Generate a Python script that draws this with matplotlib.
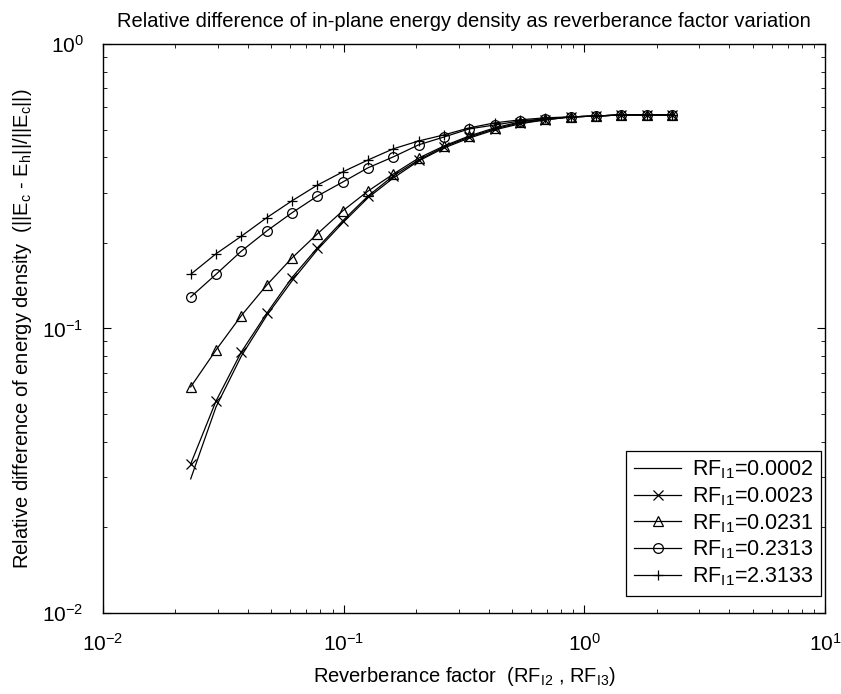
import numpy as np
import matplotlib
matplotlib.use("Agg")
import matplotlib.pyplot as plt

plt.rcParams['font.family'] = ['Liberation Sans', 'DejaVu Sans']
plt.rcParams['mathtext.fontset'] = 'custom'
plt.rcParams['mathtext.rm'] = 'Liberation Sans'
plt.rcParams['mathtext.it'] = 'Liberation Sans'

# reverberance factor RF_I2 = RF_I3 (20 log-spaced samples)
rf = np.logspace(np.log10(0.023133), np.log10(2.3133), 20)

rf1_labels = ["0.0002", "0.0023", "0.0231", "0.2313", "2.3133"]

err_00002 = [0.0296, 0.053, 0.080, 0.111, 0.147, 0.189, 0.235, 0.288, 0.338, 0.388,
             0.431, 0.467, 0.499, 0.524, 0.541, 0.554, 0.558, 0.563, 0.563, 0.563]
err_00023 = [0.0334, 0.0556, 0.0827, 0.113, 0.151, 0.192, 0.239, 0.292, 0.344, 0.391,
             0.435, 0.471, 0.503, 0.528, 0.541, 0.554, 0.558, 0.563, 0.563, 0.563]
err_00231 = [0.0623, 0.084, 0.111, 0.142, 0.177, 0.215, 0.259, 0.304, 0.349, 0.397,
             0.438, 0.475, 0.507, 0.532, 0.545, 0.554, 0.558, 0.563, 0.563, 0.563]
err_02313 = [0.129, 0.155, 0.187, 0.220, 0.255, 0.292, 0.327, 0.367, 0.401, 0.442,
             0.471, 0.503, 0.519, 0.536, 0.545, 0.554, 0.558, 0.563, 0.563, 0.563]
err_23133 = [0.155, 0.183, 0.211, 0.245, 0.281, 0.319, 0.355, 0.391, 0.428, 0.456,
             0.479, 0.507, 0.528, 0.541, 0.550, 0.554, 0.558, 0.563, 0.563, 0.563]

series = [err_00002, err_00023, err_00231, err_02313, err_23133]
markers = [None, 'x', '^', 'o', '+']

fig = plt.figure(figsize=(8.41, 6.94), dpi=100)
ax = fig.add_axes([0.1225, 0.1167, 0.8585, 0.82])

for vals, m, lab in zip(series, markers, rf1_labels):
    ax.loglog(rf, vals, color='black', linewidth=0.9, marker=m, markersize=7,
              markerfacecolor='none', markeredgecolor='black', markeredgewidth=0.9,
              label=r'RF$_{\mathrm{I1}}$=' + lab)

ax.set_xlim(1e-2, 1e1)
ax.set_ylim(1e-2, 1e0)
ax.tick_params(which='both', direction='in', top=True, right=True, labelsize=15)
ax.tick_params(which='major', length=6, pad=14)
ax.tick_params(which='minor', length=3)
for s in ax.spines.values():
    s.set_linewidth(1.0)

ax.set_title('Relative difference of in-plane energy density as reverberance factor variation',
             fontsize=14.5, pad=12)
ax.set_xlabel(r'Reverberance factor  (RF$_{\mathrm{I2}}$ , RF$_{\mathrm{I3}}$)', fontsize=14.5, labelpad=8)
ax.set_ylabel(r'Relative difference of energy density  (||E$_\mathrm{c}$ - E$_\mathrm{h}$||/||E$_\mathrm{c}$||)',
              fontsize=14.5, labelpad=6)

leg = ax.legend(loc='lower right', bbox_to_anchor=(0.9945, 0.03), borderaxespad=0,
                fontsize=15.5, fancybox=False, framealpha=1, edgecolor='black',
                handlelength=2.2, labelspacing=0.2, handletextpad=0.5, borderpad=0.35)
leg.get_frame().set_linewidth(0.9)

fig.savefig('out.png', dpi=100)
